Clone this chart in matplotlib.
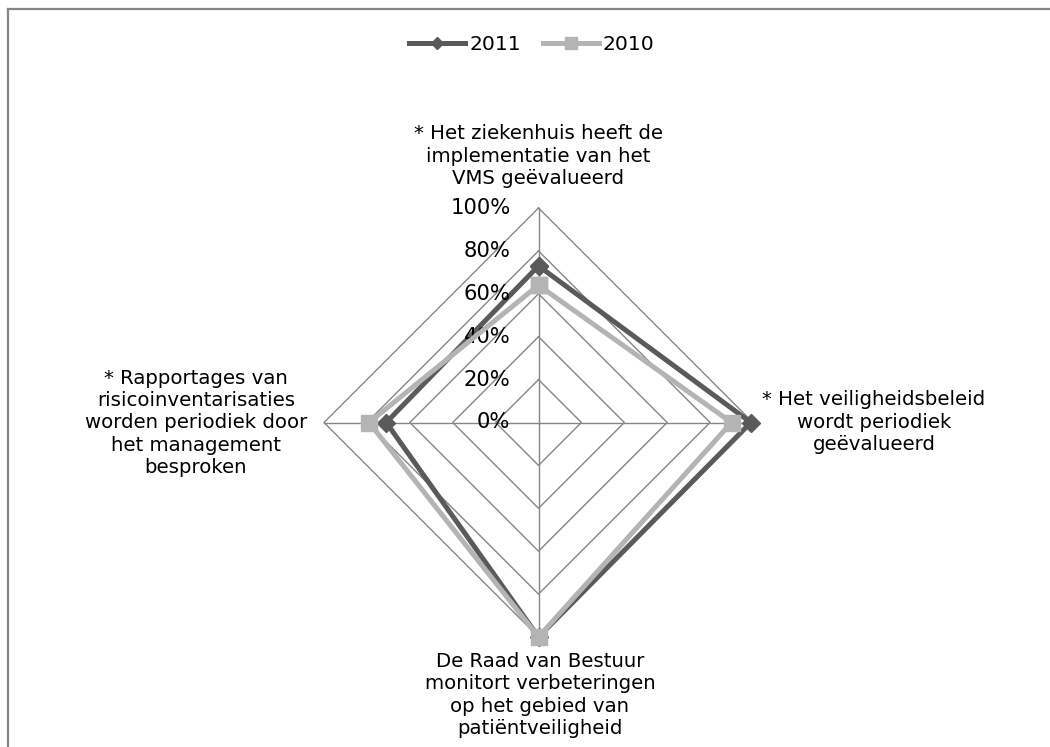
import matplotlib.pyplot as plt
import numpy as np
from matplotlib.lines import Line2D

plt.rcParams['font.family'] = ['DejaVu Sans']

# Data
categories = [
    '* Het ziekenhuis heeft de\nimplementatie van het\nVMS geëvalueerd',
    '* Het veiligheidsbeleid\nwordt periodiek\ngeëvalueerd',
    'De Raad van Bestuur\nmonitort verbeteringen\nop het gebied van\npatiëntveiligheid',
    '* Rapportages van\nrisicoinventarisaties\nworden periodiek door\nhet management\nbesproken',
]
values_2011 = [0.73, 0.99, 1.00, 0.71]
values_2010 = [0.64, 0.90, 1.00, 0.79]
ticks = [0, 0.2, 0.4, 0.6, 0.8, 1.0]
tick_labels = ['0%', '20%', '40%', '60%', '80%', '100%']

grid_col = '#868686'
col_2011 = '#5a5a5a'
col_2010 = '#b4b4b4'

W, H = 1050, 747
cx, cy, R = 538.5, 422.5, 214.5
fs = 14.2

fig = plt.figure(figsize=(W / 100, H / 100), dpi=100, facecolor='white')
ax = fig.add_axes([0, 0, 1, 1])
ax.set_xlim(-cx / R, (W - cx) / R)
ax.set_ylim(-(H - cy) / R, cy / R)
ax.axis('off')

n = len(categories)
angles = np.arange(n) * 2 * np.pi / n  # clockwise from top


def to_xy(vals):
    v = np.asarray(vals)
    x = v * np.sin(angles)
    y = v * np.cos(angles)
    return np.append(x, x[0]), np.append(y, y[0])


# grid diamonds
for t in ticks[1:]:
    gx, gy = to_xy([t] * n)
    ax.plot(gx, gy, color=grid_col, lw=1.0, zorder=1)
# spokes
for a in angles:
    ax.plot([0, np.sin(a)], [0, np.cos(a)], color=grid_col, lw=1.0, zorder=1)

# tick labels
for t, lab in zip(ticks, tick_labels):
    ax.text(-28 / R, t, lab, ha='right', va='center', fontsize=15.2, color='black')

# series
x11, y11 = to_xy(values_2011)
x10, y10 = to_xy(values_2010)
ax.plot(x11, y11, color=col_2011, lw=3.6, marker='D', ms=9, zorder=2, label='2011')
ax.plot(x10, y10, color=col_2010, lw=3.6, marker='s', ms=12, zorder=3, label='2010')

# category labels (pixel positions of block centres)
label_pos = [(538, 156), (874, 422), (540, 695), (196, 423)]
for lab, (px, py) in zip(categories, label_pos):
    ax.text((px - cx) / R, (cy - py) / R, lab, ha='center', va='center',
            fontsize=fs, multialignment='center', linespacing=1.22)

# legend
handles = [Line2D([], [], color=col_2011, lw=3.6, marker='D', ms=6),
           Line2D([], [], color=col_2010, lw=3.6, marker='s', ms=8)]
fig.legend(handles, ['2011', '2010'], loc='center', ncol=2,
           bbox_to_anchor=(532 / W, 1 - 45 / H), frameon=False, fontsize=fs + 0.4,
           handlelength=2.75, handletextpad=0.2, columnspacing=1.1)

# chart border (top and left visible)
fig.add_artist(Line2D([7.5 / W, 1.0], [1 - 8.5 / H, 1 - 8.5 / H],
                      transform=fig.transFigure, color=grid_col, lw=1.6))
fig.add_artist(Line2D([7.5 / W, 7.5 / W], [0, 1 - 8.5 / H],
                      transform=fig.transFigure, color=grid_col, lw=1.6))

plt.savefig('out.png', dpi=100, facecolor='white')
